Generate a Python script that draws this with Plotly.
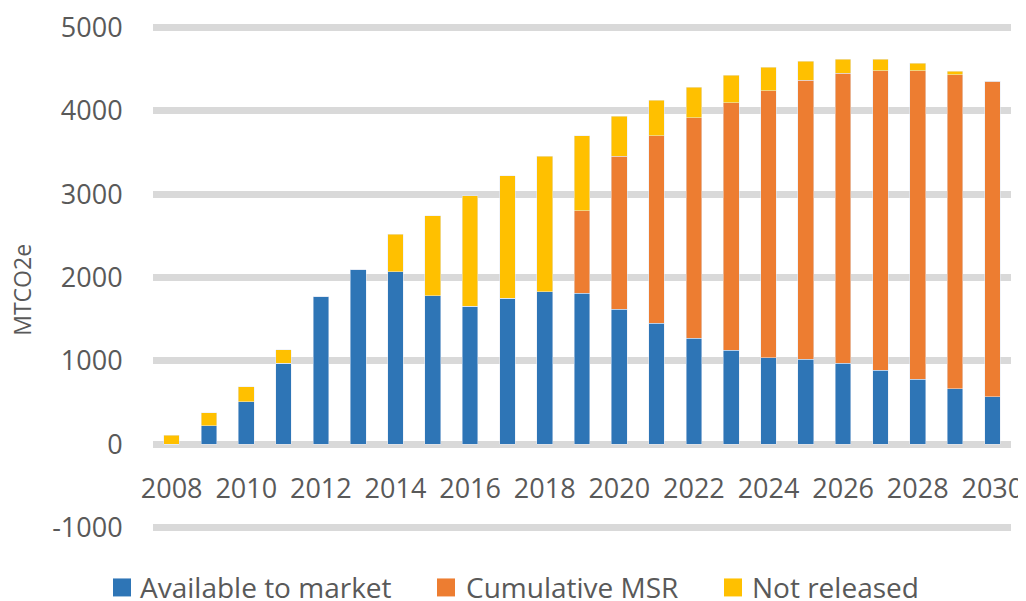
import plotly.graph_objects as go

# years and stacked series (MtCO2e)
years = list(range(2008, 2031))

available = [0, 224, 511, 970, 1772, 2092, 2072, 1784, 1653, 1749, 1829, 1813,
             1622, 1454, 1274, 1126, 1035, 1018, 970, 886, 778, 667, 571]
cumulative_msr = [0, 0, 0, 0, 0, 0, 0, 0, 0, 0, 0, 989,
                  1835, 2243, 2642, 2970, 3205, 3346, 3478, 3593, 3701, 3764, 3781]
not_released = [110, 156, 176, 164, 0, 0, 448, 955, 1325, 1469, 1628, 895,
                479, 431, 368, 332, 283, 227, 171, 140, 92, 44, 0]

series_names = ["Available to market", "Cumulative MSR", "Not released"]
series_colors = ["#2E75B6", "#ED7D31", "#FFC000"]

y_ticks = [-1000, 0, 1000, 2000, 3000, 4000, 5000]
y_labels = ["-1000", "0", "1000", "2000", "3000", "4000", "5000"]

font_name = "Open Sans"
grey_text = "#595959"

W, H = 1026, 601
OFF = 8  # the page body margin shifts the figure by 8px
ml, mt = 153 - OFF, 24 - OFF
mr = W - (1011 - OFF)
mb = H - (531.5 - OFF)
pw, ph = W - ml - mr, H - mt - mb


def px_x(px):
    return (px - OFF - ml) / pw


def px_y(py):
    return (H - mb - (py - OFF)) / ph


fig = go.Figure()
for vals, name, col in zip([available, cumulative_msr, not_released],
                           series_names, series_colors):
    fig.add_trace(go.Bar(x=years, y=vals, name=name, marker_color=col))

y_lo, y_hi = -1040, 5040

# legend drawn by hand so that the entries sit where the original has them
leg_sq = [113, 437, 724]
leg_txt = [140, 466, 752]
leg_y = 588
for sq, tx, name, col in zip(leg_sq, leg_txt, series_names, series_colors):
    fig.add_shape(type="rect", xref="paper", yref="paper",
                  x0=px_x(sq), x1=px_x(sq + 18),
                  y0=px_y(leg_y + 9), y1=px_y(leg_y - 9),
                  fillcolor=col, line_width=0)
    fig.add_annotation(text=name, xref="paper", yref="paper",
                       x=px_x(tx - 2), y=px_y(leg_y), xanchor="left", yanchor="middle",
                       showarrow=False, font=dict(size=28, color=grey_text))

fig.add_annotation(text="MTCO2e", xref="paper", yref="paper",
                   x=px_x(22), y=px_y(290), textangle=-90,
                   xanchor="center", yanchor="middle", showarrow=False,
                   font=dict(size=23, color=grey_text))

fig.update_layout(
    barmode="stack",
    bargap=0.58,
    width=W, height=H,
    margin=dict(l=ml, r=mr, t=mt, b=mb),
    plot_bgcolor="white",
    paper_bgcolor="white",
    font=dict(family=font_name, size=27, color=grey_text),
    showlegend=False,
)

fig.update_xaxes(
    range=[2007.5, 2030.5],
    tickmode="linear", tick0=2008, dtick=2,
    anchor="free", position=(0 - y_lo) / (y_hi - y_lo),
    showgrid=False, zeroline=False, showline=False, automargin=False,
    ticks="outside", ticklen=20, tickcolor="rgba(0,0,0,0)",
    tickfont=dict(size=27, color=grey_text), ticklabeloverflow="allow",
)

fig.update_yaxes(
    range=[y_lo, y_hi],
    tickvals=y_ticks, ticktext=y_labels,
    showgrid=True, gridcolor="#D9D9D9", gridwidth=7,
    zeroline=False, showline=False, automargin=False,
    ticks="outside", ticklen=24, tickcolor="rgba(0,0,0,0)",
    tickfont=dict(size=27, color=grey_text), ticklabeloverflow="allow",
)

fig.write_html("out.html")
